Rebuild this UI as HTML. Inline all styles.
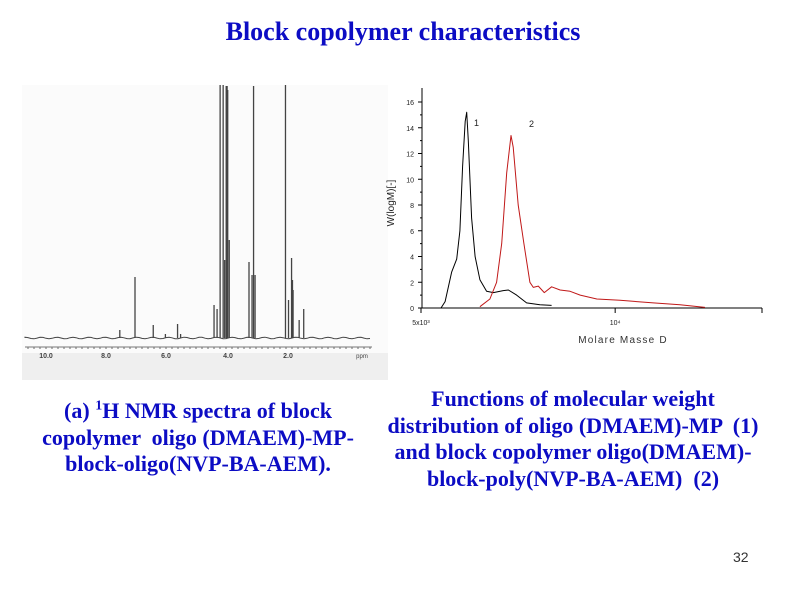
<!DOCTYPE html>
<html><head><meta charset="utf-8"><style>
body{margin:0;width:800px;height:600px;background:#fff;position:relative;overflow:hidden;font-family:"Liberation Serif",serif}
.t{position:absolute;color:#0c0cc4;font-weight:bold;text-align:center;white-space:nowrap}
</style></head><body>
<div class="t" style="left:0;width:806px;top:17px;font-size:26px">Block copolymer characteristics</div>

<svg style="position:absolute;left:22px;top:85px" width="366" height="296" viewBox="22 85 366 296">
<rect x="22" y="85" width="366" height="268" fill="#fbfbfb"/>
<rect x="22" y="353" width="366" height="27" fill="#efefef"/>
<g id="nmr" stroke="#444" stroke-width="1.3" fill="none"></g>
<line x1="25" y1="347" x2="372" y2="347" stroke="#777" stroke-width="1"/>
<g font-family="Liberation Sans" font-weight="bold" font-size="7" fill="#444" text-anchor="middle">
<text x="46" y="358">10.0</text><text x="106" y="358">8.0</text><text x="166" y="358">6.0</text><text x="228" y="358">4.0</text><text x="288" y="358">2.0</text><text x="362" y="358" font-size="6" font-weight="normal">ppm</text></g>
</svg>

<svg id="chart" style="position:absolute;left:370px;top:80px" width="410" height="280" viewBox="370 80 410 280"></svg>

<div class="t" style="left:-2px;width:400px;top:398px;font-size:22px;line-height:26.5px">(a) <sup style="font-size:14px;line-height:0">1</sup>H NMR spectra of block<br>copolymer &nbsp;oligo (DMAEM)-MP-<br>block-oligo(NVP-BA-AEM).</div>
<div class="t" style="left:373px;width:400px;top:386px;font-size:22px;line-height:26.5px">Functions of molecular weight<br>distribution of oligo (DMAEM)-MP &nbsp;(1)<br>and block copolymer oligo(DMAEM)-<br>block-poly(NVP-BA-AEM) &nbsp;(2)</div>
<div style="position:absolute;left:733px;top:549px;font-family:'Liberation Sans',sans-serif;font-size:14px;color:#333">32</div>

<script>
(function(){
 var g=document.getElementById('nmr');
 var peaks=[[7.5,330],[7.0,277],[6.4,325],[6.0,334],[5.6,324],[5.5,334],[4.4,305],[4.3,309],[4.2,85],[4.1,85],[4.05,260],[4.0,86],[3.97,86],[3.95,90],[3.9,240],[3.25,262],[3.15,275],[3.1,86],[3.05,275],[2.05,85],[1.95,300],[1.85,258],[1.82,280],[1.8,290],[1.6,320],[1.45,309]];
 var xp=function(p){return 287-(p-2)*30.4;};
 var d='M25 338';
 for(var x=25;x<=372;x+=3){d+=' L'+x+' '+(338+Math.sin(x*1.7)*0.8).toFixed(1);}
 var p=document.createElementNS('http://www.w3.org/2000/svg','path');p.setAttribute('d',d);p.setAttribute('stroke-width','1');g.appendChild(p);
 peaks.forEach(function(k){var l=document.createElementNS('http://www.w3.org/2000/svg','line');
  l.setAttribute('x1',xp(k[0]));l.setAttribute('x2',xp(k[0]));l.setAttribute('y1',338);l.setAttribute('y2',k[1]);g.appendChild(l);});
 var tk='';for(var x=28;x<372;x+=6)tk+='M'+x+' 347 v2 ';
 var t=document.createElementNS('http://www.w3.org/2000/svg','path');t.setAttribute('d',tk);t.setAttribute('stroke-width','0.8');g.appendChild(t);
})();
</script>
<script>
const yTicks=[0,2,4,6,8,10,12,14,16];
const series1M=[5370,5450,5580,5680,5745,5800,5855,5885,5920,5990,6065,6170,6320,6475,6705,6830,7035,7290,7645,7970];
const series1W=[0,0.5,2.8,3.8,6,11,14.5,15.2,13,7,4,2.2,1.3,1.2,1.35,1.4,1.0,0.4,0.25,0.2];
const series2M=[6170,6395,6550,6670,6790,6895,6950,7075,7220,7375,7465,7600,7765,7970,8215,8515,8825,9365,10175,11460,12605,13780];
const series2W=[0.1,0.7,2,5,10.5,13.4,12.5,8,5,2,1.6,1.7,1.2,1.65,1.4,1.3,1.0,0.7,0.6,0.4,0.25,0.05];
const xTickVals=[5000,10000];
const NS='http://www.w3.org/2000/svg';
const svg=document.getElementById('chart');
const X0=421,PX_DEC=645,Y0=308,PX_UNIT=206/16;
function xs(m){return X0+(Math.log10(m)-Math.log10(5000))*PX_DEC;}
function ys(v){return Y0-v*PX_UNIT;}
function mk(tag,attrs){const e=document.createElementNS(NS,tag);for(const k in attrs)e.setAttribute(k,attrs[k]);svg.appendChild(e);return e;}
let e;
e=mk('line',{x1:422,y1:88,x2:422,y2:308,stroke:'#000','stroke-width':1});


e=mk('line',{x1:422,y1:308,x2:762,y2:308,stroke:'#000','stroke-width':1});


mk('line',{x1:762,y1:308,x2:762,y2:313,stroke:'#000'});
yTicks.forEach(v=>{
 mk('line',{x1:418,y1:ys(v),x2:422,y2:ys(v),stroke:'#000'});
 if(v<16)mk('line',{x1:420,y1:ys(v+1),x2:422,y2:ys(v+1),stroke:'#000'});
 const t=mk('text',{x:414,y:ys(v)+3,'font-size':7,'font-family':'Liberation Sans','text-anchor':'end',fill:'#222'});
 t.textContent=v;
 
 
});
const xl=['5x10³','10⁴'];
xTickVals.forEach((m,i)=>{
 mk('line',{x1:xs(m),y1:308,x2:xs(m),y2:313,stroke:'#000'});
 const t=mk('text',{x:xs(m),y:325,'font-size':7,'font-family':'Liberation Sans','text-anchor':'middle',fill:'#222'});
 t.textContent=xl[i];
 
 
});
function line(M,W,color,name){
 const d=M.map((m,i)=>(i?'L':'M')+xs(m).toFixed(1)+' '+ys(W[i]).toFixed(1)).join(' ');
 const p=mk('path',{d:d,fill:'none',stroke:color,'stroke-width':1,'stroke-linejoin':'round'});
 
 
}
line(series1M,series1W,'#000','series-1-line');
line(series2M,series2W,'#c01818','series-2-line');
let t=mk('text',{x:474,y:126,'font-size':9,'font-family':'Liberation Sans',fill:'#222'});t.textContent='1';


t=mk('text',{x:529,y:127,'font-size':9,'font-family':'Liberation Sans',fill:'#222'});t.textContent='2';


t=mk('text',{x:623,y:343,'font-size':10,'font-family':'Liberation Sans','text-anchor':'middle','letter-spacing':'1.2',fill:'#333'});t.textContent='Molare Masse D';


t=mk('text',{x:0,y:0,'font-size':10,'font-family':'Liberation Sans','text-anchor':'middle',fill:'#222',transform:'translate(394,203) rotate(-90)'});t.textContent='W(logM)[-]';


</script>
</body></html>
